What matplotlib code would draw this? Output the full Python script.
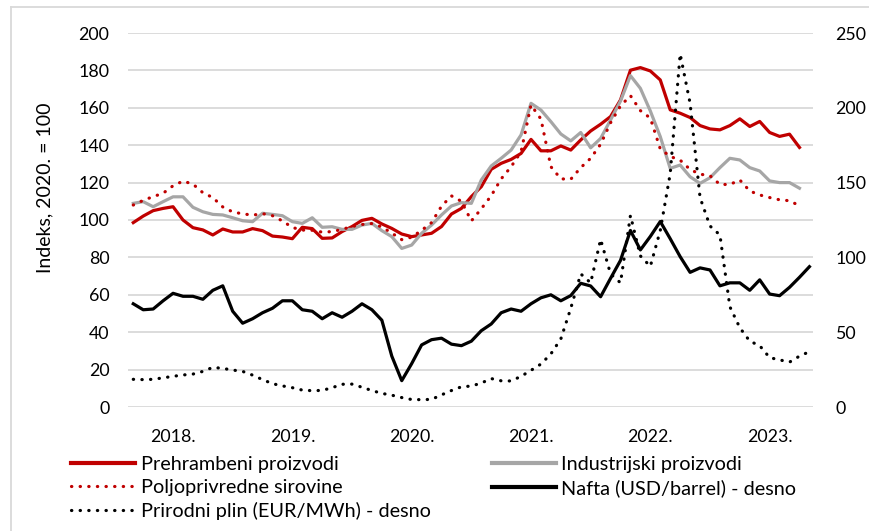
import matplotlib
matplotlib.use('Agg')
import matplotlib.pyplot as plt
from matplotlib.lines import Line2D

# mjesečni podaci, od siječnja 2018.
godine = ['2018.', '2019.', '2020.', '2021.', '2022.', '2023.']

prehrambeni = [98.6, 102.1, 105.0, 106.2, 107.1, 100.0, 95.9, 94.7, 92.0, 95.2,
               93.6, 93.6, 95.4, 94.3, 91.4, 90.9, 90.0, 96.1, 95.4, 90.2,
               90.4, 93.8, 96.5, 99.8, 100.9, 97.9, 95.5, 92.5, 91.1, 92.0,
               92.9, 96.5, 103.2, 106.2, 112.5, 117.8, 127.1, 130.3, 132.4, 135.6,
               143.1, 137.0, 137.0, 139.6, 137.4, 142.8, 147.6, 151.2, 155.3, 164.2,
               180.1, 181.5, 179.7, 174.9, 158.9, 157.1, 154.8, 150.5, 148.7, 148.2,
               150.5, 154.1, 150.0, 152.7, 146.8, 144.7, 145.9, 138.8]

industrijski = [108.9, 109.8, 107.1, 109.8, 112.4, 112.4, 106.8, 104.4, 103.0, 102.7,
                101.2, 99.6, 99.1, 103.6, 103.0, 102.3, 99.1, 98.2, 101.2, 96.1,
                96.4, 95.0, 95.0, 97.3, 98.2, 94.3, 91.1, 84.8, 86.6, 92.9,
                97.3, 102.7, 107.5, 109.3, 108.9, 121.4, 128.9, 133.0, 137.4, 145.5,
                162.4, 158.8, 152.6, 146.0, 142.3, 146.8, 138.6, 143.6, 153.5, 163.6,
                177.2, 170.4, 158.3, 144.6, 127.6, 129.4, 123.1, 119.6, 122.6, 128.0,
                133.0, 132.1, 128.0, 126.2, 120.9, 120.0, 120.0, 117.0]

poljoprivredne = [108.0, 110.5, 112.5, 114.3, 118.3, 120.8, 119.2, 114.6, 112.0, 107.0,
                  104.3, 103.3, 102.6, 103.4, 102.3, 99.5, 96.0, 94.6, 94.5, 93.5,
                  93.8, 95.0, 96.5, 97.6, 98.1, 96.3, 93.0, 89.5, 90.8, 94.5,
                  98.6, 107.4, 112.9, 110.0, 99.5, 106.0, 113.0, 122.0, 128.5, 136.5,
                  161.5, 154.0, 128.5, 122.0, 121.8, 128.0, 133.0, 140.5, 152.0, 161.0,
                  166.5, 158.5, 154.5, 138.0, 134.0, 132.0, 127.0, 124.5, 123.7, 119.0,
                  119.0, 121.4, 115.5, 113.4, 112.0, 110.8, 110.3, 107.6]

nafta = [69, 65, 65.5, 71, 76, 74, 74, 72, 78, 81,
         64, 56, 59, 63, 66, 71, 71, 65, 64, 59,
         63, 60, 64, 69, 65, 58, 34, 17.6, 29, 41.5,
         45, 46, 42, 41, 44, 51, 55.5, 63, 65.5, 64,
         69, 73, 75, 71, 74.5, 82.7, 80.9, 73.7, 86, 98,
         118, 105, 114, 124, 112.5, 100.5, 90, 93, 91.6, 81,
         83, 83, 78, 85, 75.5, 74.4, 80, 86.7, 93.8]

plin = [18.5, 18.3, 18.5, 19.5, 20.5, 21.4, 22.0, 23.8, 26.5, 25.8,
        24.7, 23.8, 21.3, 18.3, 15.6, 14.1, 12.9, 11.3, 10.9, 11.1,
        12.9, 15.2, 15.3, 13.2, 11.0, 9.1, 7.9, 6.3, 5.0, 4.9,
        5.1, 8.1, 11.0, 13.5, 14.0, 16.0, 19.0, 17.5, 17.4, 20.5,
        24.5, 28.7, 35.5, 45.5, 66, 89, 83, 112, 89, 83,
        128, 101, 94, 118, 156, 236, 203, 140, 121, 115,
        67, 53, 44, 41, 33, 31.5, 30, 34, 37]

CRVENA = '#C00000'
SIVA = '#A6A6A6'
CRNA = '#000000'
TOCKICE = (0, (0.1, 2.6))

plt.rcParams['font.family'] = ['Lato', 'DejaVu Sans']
plt.rcParams['font.size'] = 12.8

W, H = 869, 531
fig = plt.figure(figsize=(W / 100, H / 100), dpi=100)
ax = fig.add_axes([128 / W, 1 - 407 / H, 685 / W, 374 / H])
ax2 = ax.twinx()

x1 = range(len(prehrambeni))
x2 = range(len(nafta))

ax.plot(x1, prehrambeni, color=CRVENA, lw=2.3, solid_joinstyle='round')
ax.plot(x1, industrijski, color=SIVA, lw=2.3, solid_joinstyle='round')
ax.plot(x1, poljoprivredne, color=CRVENA, lw=2.3, linestyle=TOCKICE, dash_capstyle='round')
ax2.plot(x2, nafta, color=CRNA, lw=2.3, solid_joinstyle='round')
ax2.plot(x2, plin, color=CRNA, lw=2.3, linestyle=TOCKICE, dash_capstyle='round')

ax.set_xlim(-0.53, 68.36)
ax.set_ylim(0, 200)
ax2.set_ylim(0, 250)
ax.set_yticks(range(0, 201, 20))
ax2.set_yticks(range(0, 251, 50))
ax.set_xticks([4 + 12 * k for k in range(len(godine))])
ax.set_xticklabels(godine)

ax.yaxis.grid(True, color='#D9D9D9', lw=1.3)
ax.set_axisbelow(True)
for a in (ax, ax2):
    for s in a.spines.values():
        s.set_visible(False)
ax.tick_params(axis='y', length=0, pad=13.5)
ax.tick_params(axis='x', length=0, pad=16)
ax2.tick_params(axis='y', length=0, pad=16)

fig.text(45 / W, 1 - 188 / H, 'Indeks, 2020. = 100', rotation=90,
         ha='center', va='center', fontsize=14)

# okvir oko slike
fig.add_artist(Line2D([11 / W, 11 / W], [0, 1 - 7 / H], color='#D9D9D9', lw=1.3))
fig.add_artist(Line2D([11 / W, 1], [1 - 7 / H, 1 - 7 / H], color='#D9D9D9', lw=1.3))

handles = [
    Line2D([], [], color=CRVENA, lw=3),
    Line2D([], [], color=CRVENA, lw=2.3, linestyle=TOCKICE, dash_capstyle='round'),
    Line2D([], [], color=CRNA, lw=2.3, linestyle=TOCKICE, dash_capstyle='round'),
    Line2D([], [], color=SIVA, lw=3),
    Line2D([], [], color=CRNA, lw=3),
]
labels = ['Prehrambeni proizvodi', 'Poljoprivredne sirovine',
          'Prirodni plin (EUR/MWh) - desno', 'Industrijski proizvodi',
          'Nafta (USD/barrel) - desno']
fig.legend(handles, labels, ncol=2, loc='upper left',
           bbox_to_anchor=(71 / W, 1 - 456 / H), frameon=False,
           borderpad=0, borderaxespad=0, handlelength=3.2, fontsize=14.3,
           handletextpad=0.3, columnspacing=3.1, labelspacing=0.29)

fig.savefig('out.png', dpi=100)
